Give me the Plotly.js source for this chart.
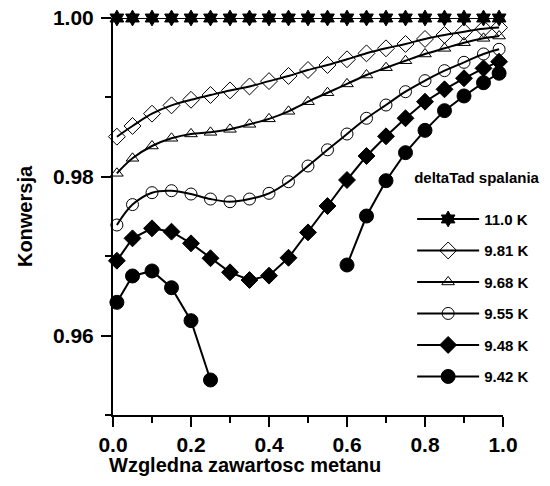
<!DOCTYPE html>
<html>
<head>
<meta charset="utf-8">
<script src="https://cdn.plot.ly/plotly-3.0.1.min.js"></script>
<style>html,body{margin:0;padding:0;background:#fff;}#chart{width:550px;height:486px;}</style>
</head>
<body>
<div id="chart"></div>
<script>
const xVals = [0.01,0.05,0.10,0.15,0.20,0.25,0.30,0.35,0.40,0.45,0.50,0.55,0.60,0.65,0.70,0.75,0.80,0.85,0.90,0.95,0.99];
const seriesNames = ["11.0 K","9.81 K","9.68 K","9.55 K","9.48 K","9.42 K"];
const s1100 = [1,1,1,1,1,1,1,1,1,1,1,1,1,1,1,1,1,1,1,1,1];
const s981 = [0.98505,0.98640,0.98795,0.98900,0.98970,0.99030,0.99088,0.99138,0.99205,0.99270,0.99345,0.99408,0.99480,0.99555,0.99618,0.99673,0.99736,0.99786,0.99828,0.99865,0.99880];
const s968 = [0.98044,0.98233,0.98388,0.98485,0.98540,0.98560,0.98598,0.98661,0.98730,0.98825,0.98946,0.99059,0.99170,0.99282,0.99374,0.99462,0.99547,0.99618,0.99689,0.99744,0.99773];
const s955 = [0.97393,0.97650,0.97800,0.97825,0.97783,0.97720,0.97686,0.97720,0.97792,0.97938,0.98136,0.98340,0.98539,0.98737,0.98904,0.99072,0.99211,0.99337,0.99442,0.99547,0.99606];
const s948 = [0.96943,0.97225,0.97351,0.97309,0.97162,0.96974,0.96797,0.96700,0.96755,0.96980,0.97300,0.97632,0.97960,0.98262,0.98510,0.98737,0.98946,0.99102,0.99241,0.99366,0.99450];
const s942 = [0.96419,0.96751,0.96814,0.96603,0.96188,0.95441,null,null,null,null,null,null,0.96889,0.97506,0.97951,0.98304,0.98585,0.98833,0.99018,0.99185,0.99304];
const legendTitle = "deltaTad spalania";
const xTitle = "Wzgledna zawartosc metanu";
const yTitle = "Konwersja";

const fam = "Liberation Sans, Arial, sans-serif";
const bold = (size) => ({family: fam, size: size, color: "#000", weight: 700});

function tr(y, name, symbol, size, shape, group) {
  return {
    x: xVals, y: y, name: name, type: "scatter", mode: "lines+markers",
    legendgroup: group, connectgaps: false, cliponaxis: false,
    line: {color: "#000", width: 2, shape: shape, smoothing: 1},
    marker: {symbol: symbol, size: size, color: "#000", line: {color: "#000", width: 1}}
  };
}

const data = [
  tr(s1100, seriesNames[0], "hexagram", 12, "linear", "a"),
  tr(s981, seriesNames[1], "diamond-open", 13, "spline", "b"),
  tr(s968, seriesNames[2], "triangle-up-open", 11, "spline", "c"),
  tr(s955, seriesNames[3], "circle-open", 12, "spline", "d"),
  tr(s948, seriesNames[4], "diamond", 13, "linear", "e"),
  tr(s942, seriesNames[5], "circle", 14, "linear", "f")
];

const layout = {
  width: 550, height: 486,
  margin: {l: 113, r: 47, t: 18, b: 71, autoexpand: false},
  paper_bgcolor: "#fff", plot_bgcolor: "#fff",
  font: bold(14),
  showlegend: true,
  legend: {
    x: 0.767, y: 0.633, xanchor: "left", yanchor: "top",
    bgcolor: "rgba(0,0,0,0)", borderwidth: 0,
    traceorder: "grouped", tracegroupgap: 9, itemwidth: 62,
    font: bold(15),
    title: {text: legendTitle + "<br> ", side: "top", font: bold(15)}
  },
  xaxis: {
    range: [0, 1], showgrid: false, zeroline: false,
    showline: true, linecolor: "#000", linewidth: 2,
    ticks: "outside", ticklen: 10, tickwidth: 2, tickcolor: "#000",
    dtick: 0.2, tick0: 0, tickformat: ".1f",
    minor: {dtick: 0.1, ticks: "outside", ticklen: 6, tickwidth: 2, tickcolor: "#000", showgrid: false},
    tickfont: bold(21)
  },
  yaxis: {
    range: [0.95, 1.0], showgrid: false, zeroline: false,
    showline: true, linecolor: "#000", linewidth: 2,
    ticks: "outside", ticklen: 10, tickwidth: 2, tickcolor: "#000",
    tickvals: [0.96, 0.98, 1.00], tickformat: ".2f", ticklabelstandoff: 3,
    minor: {tickvals: [0.95, 0.97, 0.99], ticks: "outside", ticklen: 6, tickwidth: 2, tickcolor: "#000", showgrid: false},
    tickfont: bold(21),
    title: {text: yTitle, font: bold(20), standoff: 15}
  },
  annotations: [
    {text: xTitle, xref: "paper", yref: "paper", x: 0.338, y: -0.126, xanchor: "center", yanchor: "middle", showarrow: false, font: bold(20)}
  ]
};

Plotly.newPlot("chart", data, layout, {displayModeBar: false, staticPlot: true});
</script>
</body>
</html>
